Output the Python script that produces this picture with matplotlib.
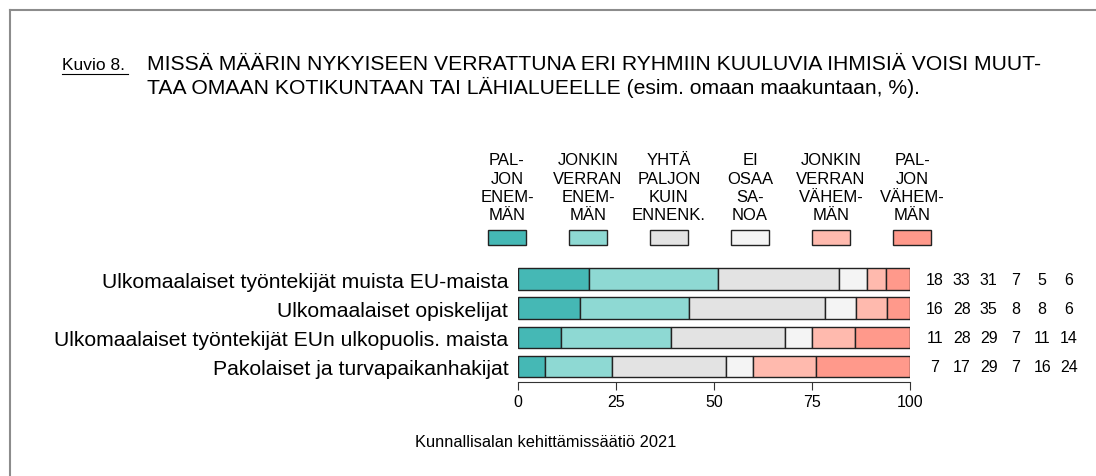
import numpy as np
import matplotlib
matplotlib.use("Agg")
import matplotlib.pyplot as plt
from matplotlib.patches import Rectangle
from matplotlib.lines import Line2D
from matplotlib import transforms

plt.rcParams['font.family'] = ['Liberation Sans', 'DejaVu Sans']

categories = [
    "Ulkomaalaiset työntekijät muista EU-maista",
    "Ulkomaalaiset opiskelijat",
    "Ulkomaalaiset työntekijät EUn ulkopuolis. maista",
    "Pakolaiset ja turvapaikanhakijat",
]
paljon_enemman = [18, 16, 11, 7]
jonkin_enemman = [33, 28, 28, 17]
yhta_paljon = [31, 35, 29, 29]
ei_osaa = [7, 8, 7, 7]
jonkin_vahemman = [5, 8, 11, 16]
paljon_vahemman = [6, 6, 14, 24]

legend_labels = [
    "PAL-\nJON\nENEM-\nMÄN",
    "JONKIN\nVERRAN\nENEM-\nMÄN",
    "YHTÄ\nPALJON\nKUIN\nENNENK.",
    "EI\nOSAA\nSA-\nNOA",
    "JONKIN\nVERRAN\nVÄHEM-\nMÄN",
    "PAL-\nJON\nVÄHEM-\nMÄN",
]
colors = ['#45B8B5', '#8ED9D3', '#E3E3E3', '#F4F4F4', '#FFBAAE', '#FF998B']
xticks = [0, 25, 50, 75, 100]

W, H = 1096, 477
fig = plt.figure(figsize=(W / 100, H / 100), dpi=100)


def fx(px):
    return px / W


def fy(py):
    return 1 - py / H


series = np.array([paljon_enemman, jonkin_enemman, yhta_paljon,
                   ei_osaa, jonkin_vahemman, paljon_vahemman], dtype=float)
# show as share of 100 (rows are rounded)
shares = series / series.sum(axis=0) * 100

ax = fig.add_axes([fx(518), fy(383), fx(392), (383 - 264) / H])
y = np.arange(len(categories))
left = np.zeros(len(categories))
for vals, col in zip(shares, colors):
    ax.barh(y, vals, left=left, height=0.74, color=col,
            edgecolor='#222222', linewidth=1.0)
    left += vals

ax.set_xlim(0, 100)
ax.set_ylim(3.53, -0.55)
for s in ['top', 'right', 'left']:
    ax.spines[s].set_visible(False)
ax.spines['bottom'].set_bounds(0, 100)
ax.spines['bottom'].set_color('#333333')
ax.set_xticks(xticks)
ax.tick_params(axis='x', length=6, color='#333333', labelsize=11.5, pad=3)
ax.set_yticks(y)
ax.set_yticklabels(categories, fontsize=15.2)
ax.tick_params(axis='y', length=0, pad=7)

# numbers on the right
tr = transforms.blended_transform_factory(fig.transFigure, ax.transData)
for i in range(len(categories)):
    for j in range(series.shape[0]):
        ax.text(fx(935 + 26.8 * j), i, '%d' % series[j, i], transform=tr,
                ha='center', va='center', fontsize=11.5, clip_on=False)

# legend
for k, (lab, col) in enumerate(zip(legend_labels, colors)):
    cx = 507 + 81 * k
    fig.text(fx(cx), fy(223), lab, ha='center', va='bottom', fontsize=12,
             linespacing=1.27)
    fig.add_artist(Rectangle((fx(cx - 19), fy(246)), fx(38), 15 / H,
                             facecolor=col, edgecolor='#222222', linewidth=1.0,
                             transform=fig.transFigure))

# title
fig.text(fx(62), fy(65), "Kuvio 8.", ha='left', va='center', fontsize=12.5)
fig.add_artist(Line2D([fx(62), fx(128)], [fy(75), fy(75)], color='black',
                      linewidth=0.8, transform=fig.transFigure))
fig.text(fx(147), fy(65),
         "MISSÄ MÄÄRIN NYKYISEEN VERRATTUNA ERI RYHMIIN KUULUVIA IHMISIÄ VOISI MUUT-",
         ha='left', va='center', fontsize=15.2)
fig.text(fx(147), fy(87),
         "TAA OMAAN KOTIKUNTAAN TAI LÄHIALUEELLE (esim. omaan maakuntaan, %).",
         ha='left', va='center', fontsize=15.2)

fig.text(fx(546), fy(443), "Kunnallisalan kehittämissäätiö 2021",
         ha='center', va='center', fontsize=11.8)

# frame
fig.add_artist(Line2D([fx(9.5), 1], [fy(10.5), fy(10.5)], color='#8C8C8C',
                      linewidth=1.5, transform=fig.transFigure))
fig.add_artist(Line2D([fx(9.5), fx(9.5)], [fy(10.5), 0], color='#8C8C8C',
                      linewidth=1.5, transform=fig.transFigure))

fig.savefig('out.png', dpi=100)
